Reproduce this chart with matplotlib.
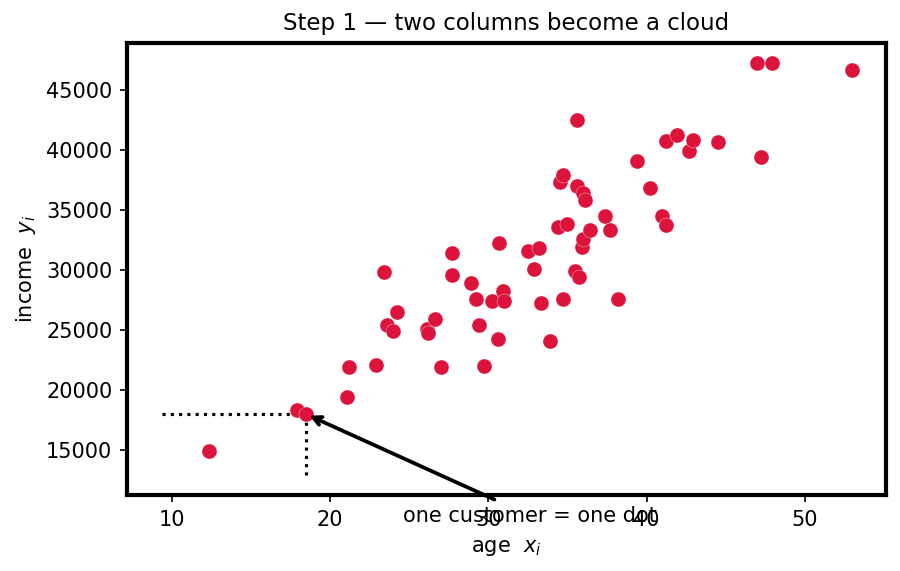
import matplotlib
matplotlib.use("Agg")
import matplotlib.pyplot as plt

# customers: age and income
age = [12.35, 17.9, 18.45, 21.05, 21.2, 22.9, 23.4, 23.6, 24.0, 24.2,
       26.1, 26.2, 26.6, 27.0, 27.7, 27.7, 28.9, 29.2, 29.4, 29.7,
       30.2, 30.6, 30.7, 30.9, 31.0, 32.5, 32.9, 33.2, 33.3, 33.9,
       34.4, 34.5, 34.7, 34.7, 35.0, 35.5, 35.6, 35.6, 35.7, 35.9,
       36.0, 36.0, 36.1, 36.4, 37.4, 37.7, 38.2, 39.4, 40.2, 41.0,
       41.2, 41.2, 41.9, 42.7, 42.9, 44.5, 47.0, 47.2, 47.9, 53.0]
income = [14900, 18300, 18000, 19400, 21900, 22050, 29800, 25400, 24900, 26500,
          25100, 24700, 25900, 21900, 31400, 29600, 28900, 27600, 25400, 22000,
          27400, 24200, 32200, 28200, 27400, 31600, 30100, 31800, 27200, 24100,
          33600, 37300, 37900, 27600, 33800, 29900, 42500, 37000, 29400, 31900,
          32600, 36400, 35800, 33300, 34500, 33300, 27600, 39100, 36800, 34500,
          33700, 40700, 41200, 39900, 40800, 40600, 47200, 39400, 47200, 46600]

hl_x, hl_y = 18.45, 18000

fig = plt.figure(figsize=(6, 3.807), dpi=150)
ax = fig.add_axes([0.141, 0.133, 0.843, 0.792])

ax.scatter(age, income, s=52, color="crimson", edgecolors="white", linewidths=0.15, zorder=3)

# dotted guides to the highlighted customer
ax.plot([9.4, hl_x], [hl_y, hl_y], ls=":", color="black", lw=1.5, zorder=2)
ax.plot([hl_x, hl_x], [12900, hl_y], ls=":", color="black", lw=1.5, zorder=2)

ax.annotate("one customer = one dot", xy=(hl_x, hl_y), xytext=(32.6, 9550),
            ha="center", va="center", fontsize=10,
            arrowprops=dict(arrowstyle="->", color="black", lw=1.8),
            annotation_clip=False)

ax.set_xlim(7.16, 55.1)
ax.set_ylim(11250, 48900)
ax.set_xticks([10, 20, 30, 40, 50])
ax.set_yticks([15000, 20000, 25000, 30000, 35000, 40000, 45000])
for s in ax.spines.values():
    s.set_linewidth(2)

ax.set_title("Step 1 — two columns become a cloud", fontsize=11)
ax.set_xlabel("age  $x_i$")
ax.set_ylabel("income  $y_i$")

fig.savefig("out.png", dpi=150)
